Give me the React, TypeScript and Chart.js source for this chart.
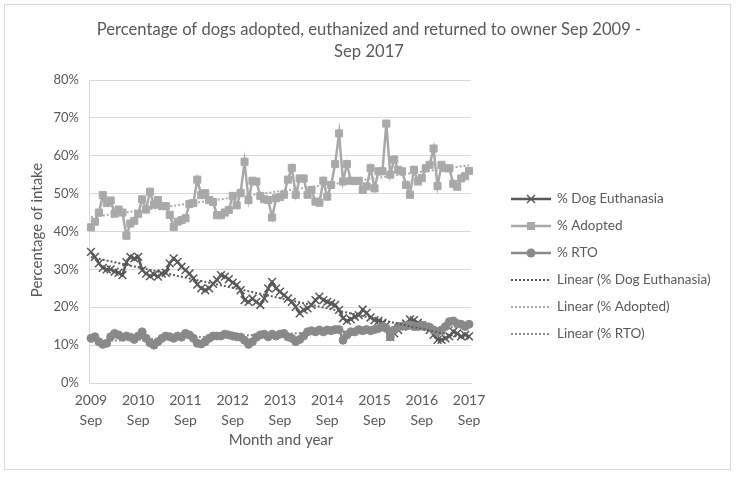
import React, { useEffect, useRef } from "react";
import { Chart, registerables } from "chart.js";

Chart.register(...registerables);

const monthNames = ["Jan", "Feb", "Mar", "Apr", "May", "Jun", "Jul", "Aug", "Sep", "Oct", "Nov", "Dec"];
const startYear = 2009;
const startMonth = 8; // Sep
const monthCount = 97;

const categories: string[] = [];
for (let k = 0; k < monthCount; k++) {
  const m = (startMonth + k) % 12;
  const y = startYear + Math.floor((startMonth + k) / 12);
  categories.push(monthNames[m] + " " + y);
}

const euthanasia = [
  34.6, 33.3, 31.6, 30.4, 30.0, 30.0, 29.4, 29.1, 28.5, 31.9, 33.3, 32.9, 33.3,
  29.8, 28.9, 28.2, 28.7, 28.1, 28.9, 29.1, 31.6, 32.9, 32.0, 30.7, 29.8,
  28.9, 27.6, 26.0, 25.0, 24.5, 25.0, 26.2, 27.2, 28.5, 28.1, 27.4, 26.5,
  25.9, 24.5, 21.9, 21.4, 22.3, 21.4, 20.6, 22.3, 25.0, 26.7, 25.0, 24.1,
  23.2, 22.3, 21.4, 20.1, 18.4, 19.3, 19.7, 20.6, 21.9, 22.8, 21.9, 21.4,
  21.0, 20.6, 19.3, 17.1, 16.4, 16.8, 17.5, 17.9, 19.4, 18.5, 17.3, 16.6,
  16.4, 15.9, 15.3, 12.2, 13.1, 14.0, 14.9, 15.7, 16.8, 16.6, 15.9, 15.3,
  14.9, 14.0, 12.7, 11.4, 11.4, 11.8, 12.3, 13.6, 13.1, 12.3, 12.7, 12.3,
];

const adopted = [
  41.1, 42.6, 45.0, 49.6, 47.5, 48.2, 44.7, 45.8, 45.0, 38.9, 42.1, 42.8, 44.7,
  48.5, 45.8, 50.5, 47.1, 48.3, 46.7, 46.7, 44.4, 41.2, 42.6, 43.0, 43.5,
  47.3, 47.5, 53.7, 49.6, 50.1, 48.3, 47.8, 44.3, 44.3, 45.0, 45.7, 49.4,
  46.9, 50.2, 58.4, 48.3, 53.4, 53.2, 49.4, 48.5, 48.3, 43.7, 48.8, 49.1,
  49.7, 53.7, 56.8, 49.7, 54.0, 54.0, 49.7, 51.0, 47.9, 47.6, 53.4, 49.2,
  52.3, 57.8, 65.9, 53.2, 57.8, 53.4, 53.3, 53.4, 51.0, 51.9, 56.7, 51.4,
  55.9, 55.9, 68.5, 55.0, 59.0, 56.3, 55.9, 52.3, 49.7, 56.3, 53.2, 54.1,
  56.7, 57.6, 61.9, 52.0, 57.6, 56.7, 56.7, 52.6, 51.8, 54.0, 54.6, 56.0,
];

const rto = [
  11.8, 12.2, 10.9, 10.2, 10.5, 12.2, 13.1, 12.7, 12.1, 12.4, 12.1, 11.5, 12.4,
  13.5, 11.8, 10.6, 10.0, 10.9, 11.8, 12.4, 12.2, 11.8, 12.4, 12.1, 13.1,
  12.7, 11.8, 10.5, 10.3, 10.9, 11.8, 12.4, 12.4, 12.4, 12.9, 12.7, 12.4,
  12.2, 12.1, 11.3, 10.2, 10.9, 12.1, 12.7, 12.9, 12.2, 12.9, 12.4, 12.9,
  13.1, 12.2, 11.8, 10.9, 11.5, 12.4, 13.5, 13.8, 13.5, 14.0, 13.5, 14.0,
  13.8, 14.1, 14.1, 11.3, 12.7, 13.5, 13.5, 14.1, 13.8, 14.1, 13.8, 14.1,
  14.4, 14.9, 14.4, 12.2, 14.0, 14.9, 15.0, 15.0, 15.3, 14.9, 14.9, 15.3,
  14.9, 14.7, 14.0, 13.5, 14.0, 14.9, 16.2, 16.4, 15.7, 15.5, 14.9, 15.5,
];

const seriesNames = ["% Dog Euthanasia", "% Adopted", "% RTO"];
const yTicks = [0, 10, 20, 30, 40, 50, 60, 70, 80];

const titleLines = ["Percentage of dogs adopted, euthanized and returned to owner Sep 2009 -", "Sep 2017"];
const yTitle = "Percentage of intake";
const xTitle = "Month and year";

const FONT = "Lato, 'Open Sans', sans-serif";
const TEXT = "#595959";
const GRID = "#d9d9d9";
const C_EUTH = "#595959";
const C_ADOPT = "#a9a9a9";
const C_RTO = "#898989";

function linearFit(vals: number[]): number[] {
  const n = vals.length;
  let sx = 0, sy = 0, sxx = 0, sxy = 0;
  for (let i = 0; i < n; i++) {
    const x = i + 1;
    sx += x; sy += vals[i]; sxx += x * x; sxy += x * vals[i];
  }
  const b = (n * sxy - sx * sy) / (n * sxx - sx * sx);
  const a = (sy - b * sx) / n;
  return vals.map((_, i) => a + b * (i + 1));
}

const legendPlugin = {
  id: "customDecor",
  afterDraw(chart: any) {
    const ctx = chart.ctx as CanvasRenderingContext2D;
    ctx.save();
    ctx.fillStyle = TEXT;
    ctx.textBaseline = "middle";
    ctx.textAlign = "center";
    ctx.font = `16.6px ${FONT}`;
    ctx.fillText(titleLines[0], 369, 30);
    ctx.fillText(titleLines[1], 369, 52);

    ctx.font = `15px ${FONT}`;
    ctx.fillText(xTitle, 281, 440);
    ctx.save();
    ctx.translate(37, 230);
    ctx.rotate(-Math.PI / 2);
    ctx.fillText(yTitle, 0, 0);
    ctx.restore();

    // legend
    const rows = [199, 226, 253, 280, 307, 334];
    const x0 = 511, x1 = 551, xm = 531;
    const items = [
      { label: seriesNames[0], color: C_EUTH, dotted: false, marker: "x" },
      { label: seriesNames[1], color: C_ADOPT, dotted: false, marker: "sq" },
      { label: seriesNames[2], color: C_RTO, dotted: false, marker: "c" },
      { label: "Linear (" + seriesNames[0] + ")", color: C_EUTH, dotted: true, marker: "" },
      { label: "Linear (" + seriesNames[1] + ")", color: C_ADOPT, dotted: true, marker: "" },
      { label: "Linear (" + seriesNames[2] + ")", color: C_RTO, dotted: true, marker: "" },
    ];
    items.forEach((it, k) => {
      const y = rows[k];
      ctx.strokeStyle = it.color;
      ctx.fillStyle = it.color;
      ctx.lineWidth = it.dotted ? 2 : 2.5;
      ctx.setLineDash(it.dotted ? [2, 2] : []);
      ctx.beginPath();
      ctx.moveTo(x0, y);
      ctx.lineTo(x1, y);
      ctx.stroke();
      ctx.setLineDash([]);
      if (it.marker === "x") {
        ctx.lineWidth = 1.5;
        ctx.beginPath();
        ctx.moveTo(xm - 4, y - 4); ctx.lineTo(xm + 4, y + 4);
        ctx.moveTo(xm + 4, y - 4); ctx.lineTo(xm - 4, y + 4);
        ctx.stroke();
      } else if (it.marker === "sq") {
        ctx.fillRect(xm - 4, y - 4, 8, 8);
      } else if (it.marker === "c") {
        ctx.beginPath();
        ctx.arc(xm, y, 4.5, 0, Math.PI * 2);
        ctx.fill();
      }
      ctx.fillStyle = TEXT;
      ctx.textAlign = "left";
      ctx.font = `13.5px ${FONT}`;
      ctx.fillText(it.label, 557, y);
    });
    ctx.restore();
  },
};

export default function App() {
  const ref = useRef<HTMLCanvasElement | null>(null);
  useEffect(() => {
    if (!ref.current) return;
    const trendE = linearFit(euthanasia);
    const trendA = linearFit(adopted);
    const trendR = linearFit(rto);
    const chart = new Chart(ref.current, {
      type: "line",
      data: {
        labels: categories,
        datasets: [
          {
            label: seriesNames[0], data: euthanasia, borderColor: C_EUTH, backgroundColor: C_EUTH,
            borderWidth: 2.5, pointStyle: "crossRot", pointRadius: 5.5, pointBorderWidth: 1.5,
            pointBorderColor: C_EUTH, order: 3, tension: 0,
          },
          {
            label: seriesNames[1], data: adopted, borderColor: C_ADOPT, backgroundColor: C_ADOPT,
            borderWidth: 2.5, pointStyle: "rect", pointRadius: 5, pointBorderWidth: 1,
            pointBorderColor: C_ADOPT, order: 2, tension: 0,
          },
          {
            label: seriesNames[2], data: rto, borderColor: C_RTO, backgroundColor: C_RTO,
            borderWidth: 2.5, pointStyle: "circle", pointRadius: 4, pointBorderWidth: 1,
            pointBorderColor: C_RTO, order: 1, tension: 0,
          },
          {
            label: "Linear (" + seriesNames[0] + ")", data: trendE, borderColor: C_EUTH,
            borderWidth: 2, borderDash: [2, 2], pointRadius: 0, order: 0,
          },
          {
            label: "Linear (" + seriesNames[1] + ")", data: trendA, borderColor: C_ADOPT,
            borderWidth: 2, borderDash: [2, 2], pointRadius: 0, order: 0,
          },
          {
            label: "Linear (" + seriesNames[2] + ")", data: trendR, borderColor: C_RTO,
            borderWidth: 2, borderDash: [2, 2], pointRadius: 0, order: 0,
          },
        ],
      },
      options: {
        responsive: false,
        animation: false,
        layout: { padding: { left: 0, top: 80, right: 265, bottom: 0 } },
        plugins: { legend: { display: false }, title: { display: false }, tooltip: { enabled: false } },
        scales: {
          x: {
            type: "category",
            offset: true,
            grid: {
              offset: true,
              drawOnChartArea: false,
              tickLength: 5,
              color: (c: any) => (c.index % 12 === 0 ? GRID : "rgba(0,0,0,0)"),
            },
            border: { color: GRID, width: 1 },
            ticks: {
              autoSkip: false,
              maxRotation: 0,
              minRotation: 0,
              padding: 3,
              color: TEXT,
              font: { family: FONT, size: 14, lineHeight: 1.4 },
              callback: (_v: any, i: number) => {
                if (i % 12 !== 0) return null;
                const lab = categories[i].split(" ");
                return [lab[1], lab[0]];
              },
            },
            afterFit: (s: any) => { s.height = 96; },
          },
          y: {
            min: 0,
            max: 80,
            afterBuildTicks: (s: any) => { s.ticks = yTicks.map((v) => ({ value: v })); },
            grid: { color: GRID, drawTicks: false },
            border: { color: GRID, width: 1 },
            ticks: {
              padding: 10,
              color: TEXT,
              font: { family: FONT, size: 13 },
              callback: (v: any) => v + "%",
            },
            afterFit: (s: any) => { s.width = 89; },
          },
        },
      },
      plugins: [legendPlugin],
    } as any);
    return () => chart.destroy();
  }, []);

  return (
    <div style={{ position: "absolute", left: 0, top: 0, width: 736, height: 479, background: "#fff" }}>
      <div
        style={{
          position: "absolute", left: 4, top: 4, width: 727, height: 466,
          border: `1px solid ${GRID}`, boxSizing: "border-box",
        }}
      />
      <canvas ref={ref} width={736} height={479} style={{ position: "absolute", left: 0, top: 0 }} />
    </div>
  );
}
